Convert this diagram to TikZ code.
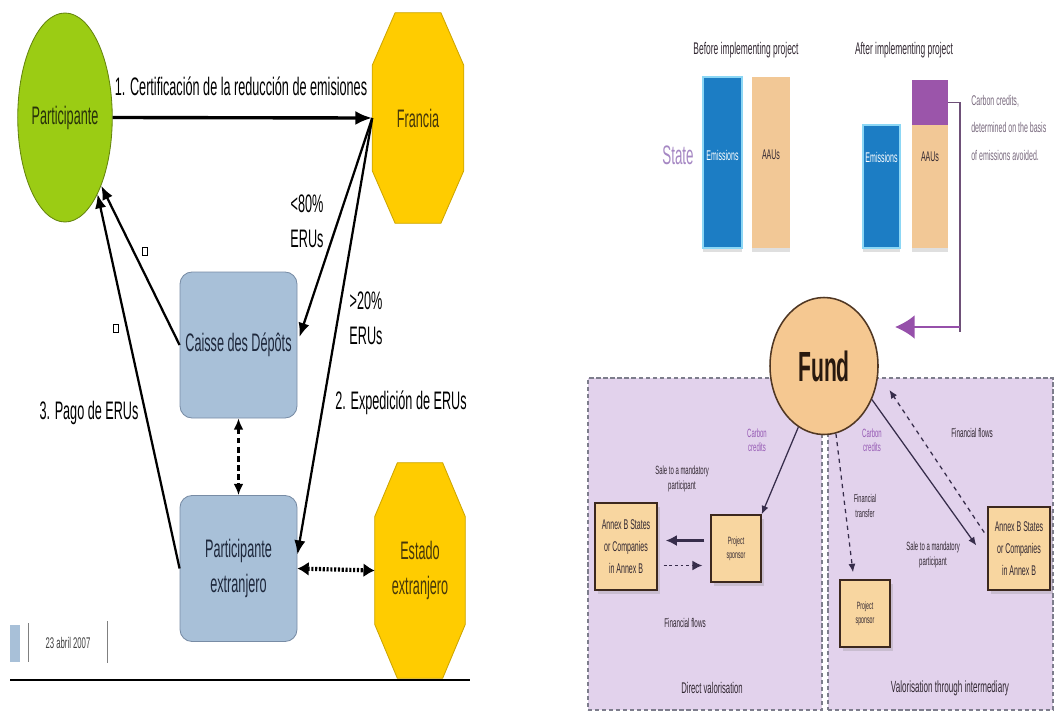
\documentclass[tikz,border=0pt]{standalone}
\usepackage{fontspec}
\setmainfont{Liberation Sans}[FakeStretch=0.5]
\usetikzlibrary{arrows.meta,shapes.geometric,calc,backgrounds,shadows}
\newlength\pu
\setlength\pu{0.025cm}
\definecolor{partgreen}{RGB}{155,204,20}
\definecolor{octyellow}{RGB}{255,204,0}
\definecolor{octline}{RGB}{205,165,0}
\definecolor{boxblue}{RGB}{168,192,216}
\definecolor{boxline}{RGB}{120,140,165}
\definecolor{boxtext}{RGB}{30,40,60}
\definecolor{barblue}{RGB}{28,125,196}
\definecolor{barcyan}{RGB}{140,215,245}
\definecolor{peach}{RGB}{242,200,150}
\definecolor{pblock}{RGB}{155,85,170}
\definecolor{parrow}{RGB}{150,80,170}
\definecolor{pline}{RGB}{110,80,120}
\definecolor{panelfill}{RGB}{226,210,236}
\definecolor{panelline}{RGB}{125,125,140}
\definecolor{fundfill}{RGB}{245,200,145}
\definecolor{fundline}{RGB}{80,55,35}
\definecolor{annexfill}{RGB}{248,214,160}
\definecolor{annexline}{RGB}{60,40,30}
\definecolor{cctext}{RGB}{150,90,180}
\definecolor{rtext}{RGB}{50,40,50}
\definecolor{statetext}{RGB}{165,135,195}
\definecolor{notetext}{RGB}{120,105,125}
\definecolor{rarrow}{RGB}{55,45,75}
\newcommand\octshape[1]{%
  \filldraw[fill=octyellow,draw=octline,line width=0.6pt]
    ($(#1.north west)!0.25!(#1.north east)$) -- ($(#1.north west)!0.75!(#1.north east)$)
 -- ($(#1.north east)!0.25!(#1.south east)$) -- ($(#1.north east)!0.75!(#1.south east)$)
 -- ($(#1.south west)!0.75!(#1.south east)$) -- ($(#1.south west)!0.25!(#1.south east)$)
 -- ($(#1.north west)!0.75!(#1.south west)$) -- ($(#1.north west)!0.25!(#1.south west)$) -- cycle;}
\tikzset{
  fsz/.style 2 args={font=\fontsize{#1}{#2}\selectfont},
  lbig/.style={fsz={18}{25}, align=center, inner sep=0pt},
  octbox/.style={rectangle, minimum width=90\pu, minimum height=210\pu, inner sep=0pt, lbig, text={rgb,255:red,70;green,55;blue,10}},
  bluebox/.style={rectangle, rounded corners=0.3cm, fill=boxblue, draw=boxline, line width=0.6pt,
     minimum width=117\pu, minimum height=146\pu, lbig, text=boxtext},
  bigarr/.style={line width=2.4pt, -{Latex[length=12pt,width=10pt]}},
  arr/.style={line width=1.6pt, -{Latex[length=10pt,width=8pt]}},
  sqbox/.style={draw, line width=0.5pt, minimum width=5\pu, minimum height=8\pu, inner sep=0pt},
  bar/.style={rectangle, inner sep=0pt, drop shadow={shadow xshift=0pt, shadow yshift=-3pt, opacity=0.25, fill=gray}},
  bluebar/.style={bar, fill=barblue, draw=barcyan, line width=1.5pt},
  peachbar/.style={bar, fill=peach, draw=none},
  rtxt/.style={align=center, inner sep=0pt, text=rtext},
  ccl/.style={rtxt, fsz={8.5}{10}, text=cctext},
  panel/.style={rectangle, fill=panelfill, draw=panelline, densely dashed, line width=0.8pt, inner sep=0pt},
  abox/.style={rectangle, fill=annexfill, draw=annexline, line width=1pt, inner sep=0pt, rtxt,
     drop shadow={shadow xshift=2pt, shadow yshift=-3pt, opacity=0.25, fill=gray}},
  rarr/.style={draw=rarrow, line width=0.9pt, -{Latex[length=6pt,width=5pt]}},
}
\begin{document}
\begin{tikzpicture}[x=0.025cm,y=-0.025cm]
\useasboundingbox (0,0) rectangle (1056,717);

% ================= LEFT DIAGRAM =================
\node[ellipse, draw=partgreen!65!black, line width=0.6pt, fill=partgreen,
      minimum width=90\pu, minimum height=209\pu, lbig, text={rgb,255:red,40;green,50;blue,10}] (part) at (65,117.5) {Participante};
\node[octbox, minimum width=91\pu, minimum height=210\pu] (francia) at (418,118) {Francia};
\node[bluebox] (caisse) at (238.5,345) {Caisse des Dépôts};
\node[bluebox] (partext) at (238.5,568.5) {Participante\\extranjero};
\node[octbox, minimum width=90\pu, minimum height=215\pu] (estado) at (420,570.5) {Estado\\extranjero};
\begin{scope}[on background layer]
  \octshape{francia}
  \octshape{estado}
\end{scope}

\draw[bigarr] (part.east) -- (francia.west);
\node[lbig] (l1) at (241,86) {1. Certificación de la reducción de emisiones};

\draw[arr] (caisse.west) -- (part.-62);
\draw[arr] (partext.west) -- (part.-67);
\node[sqbox] (sq1) at (145,251) {};
\node[sqbox] (sq2) at (116,328) {};

\draw[arr] (francia.west) -- ($(caisse.east)+(2,-8)$);
\draw[arr] (francia.west) -- ($(partext.east)+(0,-14)$);
\node[lbig] (l80) at (307,221) {<80\%\\ERUs};
\node[lbig] (l20) at (366,318) {>20\%\\ERUs};
\node[lbig] (l2) at (401,403) {2. Expedición de ERUs};
\node[lbig] (l3) at (89,413) {3. Pago de ERUs};

\draw[line width=1.5pt, dash pattern=on 4pt off 2.5pt,
      {Latex[length=8pt,width=7pt]}-{Latex[length=8pt,width=7pt]}] (caisse.south) -- (partext.north);
\draw[line width=3pt, dash pattern=on 1.5pt off 1.2pt,
      {Latex[length=8pt,width=10pt]}-{Latex[length=8pt,width=10pt]}] (partext.east) -- (estado.west);

\draw[line width=1.2pt] (10,680) -- (470,680);
\fill[boxblue] (10,625) rectangle (20,662);
\draw[gray, line width=0.6pt] (28,623) -- (28,662);
\draw[gray, line width=0.6pt] (107,621) -- (107,663);
\node[fsz={11}{12}, text=black!75, inner sep=0pt] (date) at (68,643) {23 abril 2007};

% ================= RIGHT DIAGRAM =================
\node[rtxt, fsz={12}{14}] (before) at (746,50) {Before implementing project};
\node[rtxt, fsz={12}{14}] (after) at (904,50) {After implementing project};
\node[rtxt, fsz={19}{20}, text=statetext] (state) at (678,155) {State};

\node[bluebar, minimum width=39\pu, minimum height=171\pu] (b1) at (722.5,162.5) {};
\node[peachbar, minimum width=38\pu, minimum height=171\pu] (b2) at (771,162.5) {};
\node[bluebar, minimum width=37\pu, minimum height=123\pu] (b3) at (881.5,186.5) {};
\node[peachbar, minimum width=36\pu, minimum height=123\pu] (b4) at (930,186.5) {};
\node[rectangle, inner sep=0pt, fill=pblock, minimum width=36\pu, minimum height=45\pu] (pc) at (930,102.5) {};
\node[fsz={10}{11}, text=white, inner sep=0pt] (e1) at (722.5,155) {Emissions};
\node[fsz={10}{11}, text=rtext, inner sep=0pt] (a1) at (771,155) {AAUs};
\node[fsz={10}{11}, text=white, inner sep=0pt] (e2) at (881.5,157) {Emissions};
\node[fsz={10}{11}, text=rtext, inner sep=0pt] (a2) at (930,157) {AAUs};

\node[anchor=north west, align=left, inner sep=0pt, fsz={10}{19.5}, text=notetext] (note) at (971,95)
  {Carbon credits,\\determined on the basis\\of emissions avoided.};

\coordinate (fundin) at (895,327);
\draw[pline, line width=1.2pt] (pc.east) -- ++(12,0) -- ++(0,229);
\draw[parrow, line width=1.6pt, -{Latex[length=14pt,width=17pt]}] (960,327) -- (fundin);

\node[panel, minimum width=234\pu, minimum height=332\pu] (lpanel) at (705,544) {};
\node[panel, minimum width=225\pu, minimum height=332\pu] (rpanel) at (940.5,544) {};

\node[ellipse, fill=fundfill, draw=fundline, line width=1.1pt, minimum width=108\pu, minimum height=137\pu,
      font=\bfseries\fontsize{30}{32}\selectfont, text={rgb,255:red,40;green,25;blue,15}, inner sep=0pt] (fund) at (824,366) {Fund};

\node[abox, minimum width=62\pu, minimum height=87\pu, fsz={10}{15.5}] (annex1) at (626,546.5) {Annex B States\\or Companies\\in Annex B};
\node[abox, minimum width=50\pu, minimum height=67\pu, fsz={7.5}{10}] (ps1) at (736,548.5) {Project\\sponsor};
\node[abox, minimum width=50\pu, minimum height=67\pu, fsz={7.5}{10}] (ps2) at (865,613.5) {Project\\sponsor};
\node[abox, minimum width=62\pu, minimum height=83\pu, fsz={10}{15.5}] (annex2) at (1019,548.5) {Annex B States\\or Companies\\in Annex B};

\node[ccl] (cc1) at (757,440) {Carbon\\credits};
\node[ccl] (cc2) at (872,440) {Carbon\\credits};
\node[rtxt, fsz={9}{11}] (ff2) at (972,433) {Financial flows};
\node[rtxt, fsz={8.5}{11}] (sale1) at (682,479) {Sale to a mandatory\\participant};
\node[rtxt, fsz={9}{11}] (ff1) at (685,623) {Financial flows};
\node[rtxt, fsz={11}{12}] (dv) at (712,688) {Direct valorisation};
\node[rtxt, fsz={8}{11}] (ft) at (865,506) {Financial\\transfer};
\node[rtxt, fsz={8.5}{11}] (sale2) at (933,555) {Sale to a mandatory\\participant};
\node[rtxt, fsz={11.5}{12}] (vti) at (950,688) {Valorisation through intermediary};

\draw[rarr] (fund) -- (ps1.north east);
\draw[line width=2.2pt, draw=rarrow, -{Latex[length=8pt,width=8pt]}] ($(ps1.west)+(-6,-8)$) -- ($(annex1.east)+(8,-6)$);
\draw[line width=1pt, draw=rarrow, dash pattern=on 2pt off 2pt, -{Latex[length=7pt,width=7pt]}] ($(annex1.east)+(6,19)$) -- ($(ps1.west)+(-8,17)$);
\draw[rarr, dashed] (fund.-80) -- ($(ps2.north)+(-12,-7)$);
\draw[rarr] (fund.-35) -- ($(annex2.west)+(-11,-3)$);
\draw[rarr, dashed] ($(annex2.west)+(-3,-16)$) -- ($(fund.-25)+(14,0)$);
\end{tikzpicture}
\end{document}
